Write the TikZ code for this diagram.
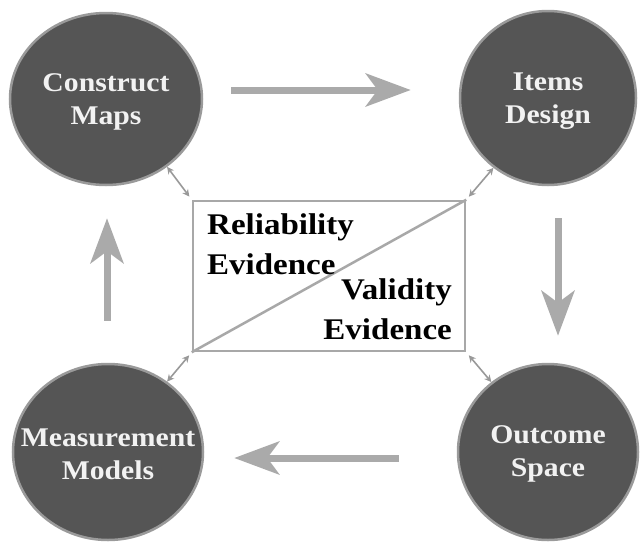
\documentclass[tikz,border=0pt]{standalone}
\usepackage{fontspec}
\setmainfont{Liberation Serif}[FakeStretch=1.1]
\usetikzlibrary{shapes.geometric,arrows.meta}
\definecolor{circfill}{HTML}{555555}
\definecolor{circedge}{HTML}{9A9A9A}
\definecolor{arrowgray}{HTML}{AAAAAA}
\definecolor{boxgray}{HTML}{A8A8A8}
\definecolor{smallgray}{HTML}{999999}
\definecolor{lighttext}{HTML}{F2F2F2}
\tikzset{
  stage/.style={ellipse, draw=circedge, line width=2.5pt, fill=circfill, inner sep=0pt},
  stagetext/.style={text=lighttext, font=\fontsize{27}{33}\selectfont\bfseries, align=center, inner sep=0pt},
  bigarrow/.style={draw=arrowgray, line width=7pt,
    -{Stealth[length=45pt, width=33pt, inset=12pt, fill=arrowgray]}},
  smallarrow/.style={draw=smallgray, line width=1.6pt,
    {Stealth[length=7pt, width=7pt]}-{Stealth[length=7pt, width=7pt]}},
  evbox/.style={draw=boxgray, line width=2.5pt, minimum width=272pt, minimum height=150pt, inner sep=0pt},
  evtext/.style={font=\fontsize{30}{40}\selectfont\bfseries, inner sep=0pt, text=black}
}
\begin{document}
\begin{tikzpicture}[x=1pt, y=-1pt]
\useasboundingbox (0,0) rectangle (640,544);
\node[stage, minimum width=192pt, minimum height=172pt,
  label={[stagetext, yshift=-3pt]center:Construct\\Maps}] (cm) at (106,99) {};
\node[stage, minimum width=176pt, minimum height=174pt,
  label={[stagetext, yshift=-3pt]center:Items\\Design}] (id) at (548,98) {};
\node[stage, minimum width=180pt, minimum height=176pt,
  label={[stagetext, yshift=-2pt]center:Outcome\\Space}] (os) at (548,452) {};
\node[stage, minimum width=190pt, minimum height=176pt,
  label={[stagetext, yshift=-2pt]center:Measurement\\Models}] (mm) at (108,452) {};
\node[evbox] (box) at (329,276) {};
\draw[draw=boxgray, line width=2.5pt] (box.south west) -- (box.north east);
\node[evtext, anchor=north west, align=left] (rel) at (207,213) {Reliability\\Evidence};
\node[evtext, anchor=north east, align=right] (val) at (452,278) {Validity\\Evidence};
% big cycle arrows
\draw[bigarrow, shorten <=28pt, shorten >=48pt] ([yshift=9pt]cm.east) -- ([yshift=8pt]id.west);
\draw[bigarrow, shorten <=32pt, shorten >=27pt] ([xshift=10pt]id.south) -- ([xshift=10pt]os.north);
\draw[bigarrow, shorten <=58pt, shorten >=30pt] ([yshift=-6pt]os.west) -- ([yshift=-6pt]mm.east);
\draw[bigarrow, shorten <=42pt, shorten >=32pt] ([xshift=-1pt]mm.north) -- ([xshift=1pt]cm.south);
% small double arrows
\draw[smallarrow, shorten >=4pt] (cm.-48) -- (box.north west);
\draw[smallarrow, shorten >=4pt] (id.-128) -- (box.north east);
\draw[smallarrow, shorten >=4pt] (mm.50) -- (box.south west);
\draw[smallarrow, shorten >=4pt] (os.129) -- (box.south east);
\end{tikzpicture}
\end{document}
